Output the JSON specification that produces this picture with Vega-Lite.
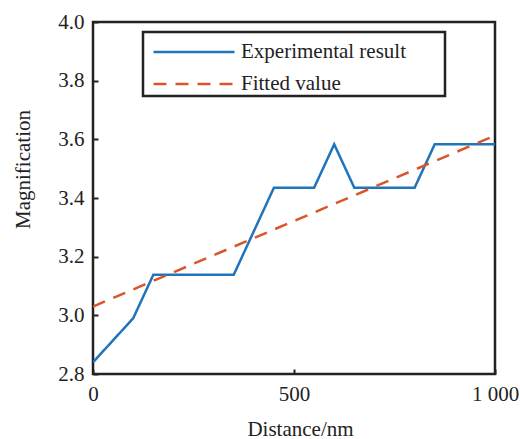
{
  "$schema": "https://vega.github.io/schema/vega-lite/v6.json",
  "width": 402,
  "height": 352,
  "autosize": {"type": "none"},
  "padding": {"left": 93, "top": 22, "right": 25, "bottom": 65},
  "background": "white",
  "config": {
    "font": "Liberation Serif",
    "view": {"stroke": "#222", "strokeWidth": 2.5},
    "axis": {
      "domain": false,
      "grid": false,
      "ticks": true,
      "tickSize": -5,
      "tickColor": "#222",
      "tickWidth": 2,
      "labelFont": "Liberation Serif",
      "labelFontSize": 21,
      "labelColor": "#222",
      "titleFont": "Liberation Serif",
      "titleFontSize": 21,
      "titleFontWeight": "normal",
      "titleColor": "#222"
    },
    "axisY": {"labelFont": "Liberation Serif"}
  },
  "data": {
    "values": [
      {"distance": 0, "magnification": 2.84, "series": "Experimental result"},
      {"distance": 100, "magnification": 2.99, "series": "Experimental result"},
      {"distance": 150, "magnification": 3.138, "series": "Experimental result"},
      {"distance": 350, "magnification": 3.138, "series": "Experimental result"},
      {"distance": 450, "magnification": 3.435, "series": "Experimental result"},
      {"distance": 550, "magnification": 3.435, "series": "Experimental result"},
      {"distance": 600, "magnification": 3.583, "series": "Experimental result"},
      {"distance": 650, "magnification": 3.435, "series": "Experimental result"},
      {"distance": 800, "magnification": 3.435, "series": "Experimental result"},
      {"distance": 850, "magnification": 3.583, "series": "Experimental result"},
      {"distance": 1000, "magnification": 3.583, "series": "Experimental result"},
      {"distance": 0, "magnification": 3.03, "series": "Fitted value"},
      {"distance": 1000, "magnification": 3.613, "series": "Fitted value"}
    ]
  },
  "mark": {"type": "line", "strokeWidth": 2.5, "clip": true},
  "encoding": {
    "x": {
      "field": "distance",
      "type": "quantitative",
      "scale": {"domain": [0, 1000], "nice": false},
      "axis": {
        "title": "Distance/nm",
        "values": [0, 500, 1000],
        "labelFont": "Liberation Serif",
        "labelExpr": "datum.value == 1000 ? '1 000' : datum.label",
        "labelPadding": 14,
        "titlePadding": 14,
        "titleX": 207,
        "labelFlush": false
      }
    },
    "y": {
      "field": "magnification",
      "type": "quantitative",
      "scale": {"domain": [2.8, 4.0], "nice": false, "zero": false},
      "axis": {
        "title": "Magnification",
        "values": [2.8, 3.0, 3.2, 3.4, 3.6, 3.8, 4.0],
        "labelFont": "Liberation Serif",
        "format": ".1f",
        "labelPadding": 14,
        "titlePadding": 24,
        "titleY": 147
      }
    },
    "color": {
      "field": "series",
      "type": "nominal",
      "scale": {"domain": ["Experimental result", "Fitted value"], "range": ["#1F74BA", "#D9562A"]},
      "legend": {
        "title": "\u00a0",
        "titleOrient": "right",
        "titlePadding": 37,
        "titleFontSize": 4,
        "orient": "none",
        "legendX": 50,
        "legendY": 10,
        "strokeColor": "#222",
        "fillColor": "white",
        "padding": 2,
        "symbolType": "M-0.576,0H4.333",
        "symbolSize": 1089,
        "symbolStrokeWidth": 2.5,
        "symbolFillColor": "transparent",
        "labelFontSize": 21,
        "labelFont": "Liberation Serif",
        "labelColor": "#222",
        "labelOffset": 60,
        "labelLimit": 500,
        "rowPadding": 4,
        "encode": {"legend": {"update": {"strokeWidth": {"value": 2.5}}}}
      }
    },
    "strokeDash": {
      "field": "series",
      "type": "nominal",
      "scale": {"domain": ["Experimental result", "Fitted value"], "range": [[1, 0], [13, 9]]},
      "legend": null
    }
  }
}
